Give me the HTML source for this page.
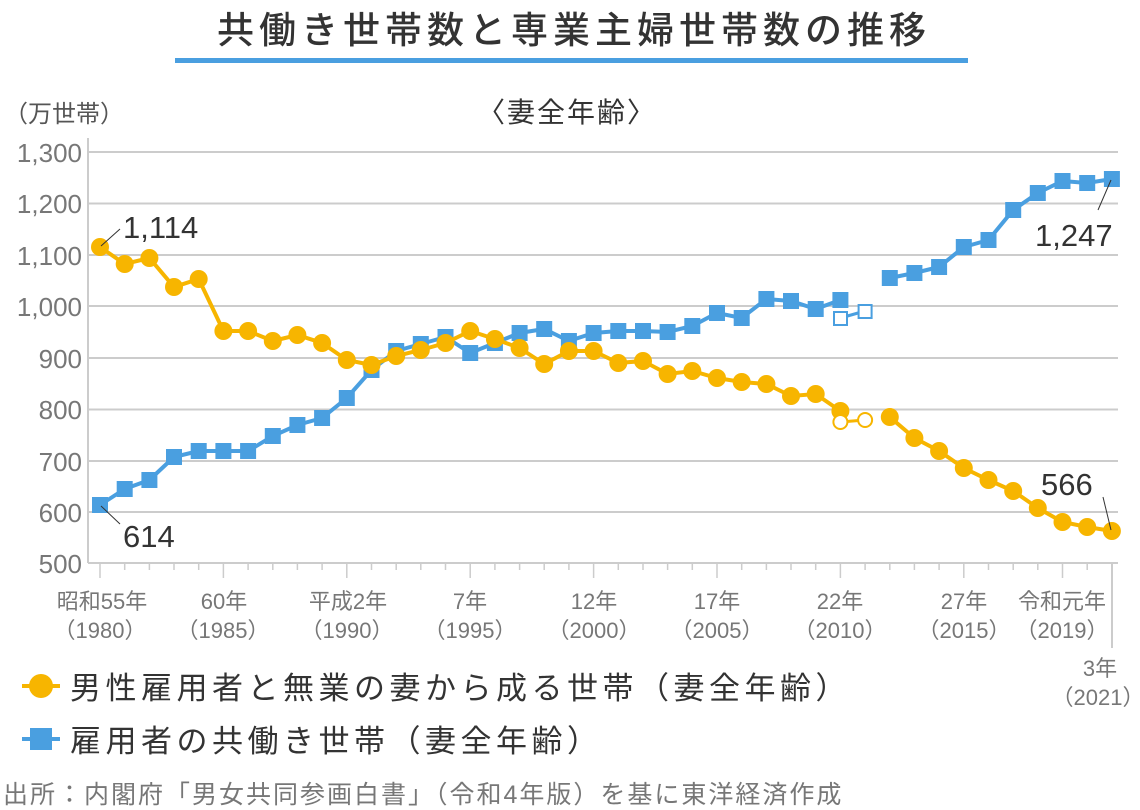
<!DOCTYPE html>
<html><head><meta charset="utf-8"><style>
body{margin:0;background:#fff;}
svg{display:block;font-family:"Liberation Sans","Noto Sans CJK JP",sans-serif;}
</style></head><body>
<svg width="1140" height="810" viewBox="0 0 1140 810">
<text x="574" y="43" text-anchor="middle" font-size="37" fill="#333" font-weight="500" letter-spacing="5">共働き世帯数と専業主婦世帯数の推移</text>
<rect x="175" y="58" width="793" height="5" fill="#4a9fe0"/>
<text x="4" y="122" font-size="24" fill="#555">（万世帯）</text>
<text x="567" y="122" text-anchor="middle" font-size="28" fill="#333" letter-spacing="2">〈妻全年齢〉</text>
<g stroke="#ccc" stroke-width="2">
<line x1="88" y1="152" x2="1118" y2="152"/><line x1="88" y1="203.5" x2="1118" y2="203.5"/><line x1="88" y1="255" x2="1118" y2="255"/><line x1="88" y1="306" x2="1118" y2="306"/><line x1="88" y1="358" x2="1118" y2="358"/><line x1="88" y1="409.5" x2="1118" y2="409.5"/><line x1="88" y1="461" x2="1118" y2="461"/><line x1="88" y1="512" x2="1118" y2="512"/><line x1="88" y1="563" x2="1118" y2="563"/>
<line x1="88" y1="138" x2="88" y2="563"/>
<line x1="1112" y1="563" x2="1112" y2="648"/>
</g>
<g stroke="#ccc" stroke-width="1.5">
<line x1="100" y1="563" x2="100" y2="578"/><line x1="124.7" y1="563" x2="124.7" y2="570"/><line x1="149.4" y1="563" x2="149.4" y2="570"/><line x1="174" y1="563" x2="174" y2="570"/><line x1="198.7" y1="563" x2="198.7" y2="570"/><line x1="223.4" y1="563" x2="223.4" y2="578"/><line x1="248.1" y1="563" x2="248.1" y2="570"/><line x1="272.8" y1="563" x2="272.8" y2="570"/><line x1="297.4" y1="563" x2="297.4" y2="570"/><line x1="322.1" y1="563" x2="322.1" y2="570"/><line x1="346.8" y1="563" x2="346.8" y2="578"/><line x1="371.5" y1="563" x2="371.5" y2="570"/><line x1="396.2" y1="563" x2="396.2" y2="570"/><line x1="420.8" y1="563" x2="420.8" y2="570"/><line x1="445.5" y1="563" x2="445.5" y2="570"/><line x1="470.2" y1="563" x2="470.2" y2="578"/><line x1="494.9" y1="563" x2="494.9" y2="570"/><line x1="519.6" y1="563" x2="519.6" y2="570"/><line x1="544.2" y1="563" x2="544.2" y2="570"/><line x1="568.9" y1="563" x2="568.9" y2="570"/><line x1="593.6" y1="563" x2="593.6" y2="578"/><line x1="618.3" y1="563" x2="618.3" y2="570"/><line x1="643" y1="563" x2="643" y2="570"/><line x1="667.6" y1="563" x2="667.6" y2="570"/><line x1="692.3" y1="563" x2="692.3" y2="570"/><line x1="717" y1="563" x2="717" y2="578"/><line x1="741.7" y1="563" x2="741.7" y2="570"/><line x1="766.4" y1="563" x2="766.4" y2="570"/><line x1="791" y1="563" x2="791" y2="570"/><line x1="815.7" y1="563" x2="815.7" y2="570"/><line x1="840.4" y1="563" x2="840.4" y2="578"/><line x1="865.1" y1="563" x2="865.1" y2="570"/><line x1="889.8" y1="563" x2="889.8" y2="570"/><line x1="914.4" y1="563" x2="914.4" y2="570"/><line x1="939.1" y1="563" x2="939.1" y2="570"/><line x1="963.8" y1="563" x2="963.8" y2="578"/><line x1="988.5" y1="563" x2="988.5" y2="570"/><line x1="1013.2" y1="563" x2="1013.2" y2="570"/><line x1="1037.8" y1="563" x2="1037.8" y2="570"/><line x1="1062.5" y1="563" x2="1062.5" y2="578"/><line x1="1087.2" y1="563" x2="1087.2" y2="570"/>
</g>
<g font-size="26" fill="#777" text-anchor="end">
<text x="82" y="162">1,300</text><text x="82" y="213">1,200</text><text x="82" y="265">1,100</text><text x="82" y="316">1,000</text><text x="82" y="368">900</text><text x="82" y="419">800</text><text x="82" y="471">700</text><text x="82" y="522">600</text><text x="82" y="573">500</text>
</g>
<g font-size="22" fill="#777" text-anchor="middle">
<text x="102" y="609">昭和55年</text><text x="100" y="638">（1980）</text>
<text x="224" y="609">60年</text><text x="223" y="638">（1985）</text>
<text x="348" y="609">平成2年</text><text x="347" y="638">（1990）</text>
<text x="470" y="609">7年</text><text x="470" y="638">（1995）</text>
<text x="594" y="609">12年</text><text x="594" y="638">（2000）</text>
<text x="717" y="609">17年</text><text x="717" y="638">（2005）</text>
<text x="840" y="609">22年</text><text x="840" y="638">（2010）</text>
<text x="964" y="609">27年</text><text x="964" y="638">（2015）</text>
<text x="1062" y="609">令和元年</text><text x="1062" y="638">（2019）</text>
<text x="1100" y="676">3年</text><text x="1098" y="705">（2021）</text>
</g>
<g fill="none" stroke="#4a9fe0" stroke-width="4">
<polyline points="100,505 124.7,489 149.4,480 174,457 198.7,451 223.4,451 248.1,451 272.8,436 297.4,425 322.1,418 346.8,398 371.5,370 396.2,351 420.8,344 445.5,337 470.2,353 494.9,343 519.6,333 544.2,329 568.9,341 593.6,333 618.3,331 643,331 667.6,332 692.3,326 717,313 741.7,318 766.4,299 791,301 815.7,309 840.4,300"/>
<polyline points="840.4,318 865.1,311" stroke-width="3"/>
<polyline points="889.8,278 914.4,273 939.1,267 963.8,247 988.5,240 1013.2,210 1037.8,193 1062.5,181 1087.2,183 1111.9,179"/>
</g>
<g fill="#4a9fe0">
<rect x="92" y="497" width="16" height="16"/><rect x="116.7" y="481" width="16" height="16"/><rect x="141.4" y="472" width="16" height="16"/><rect x="166" y="449" width="16" height="16"/><rect x="190.7" y="443" width="16" height="16"/><rect x="215.4" y="443" width="16" height="16"/><rect x="240.1" y="443" width="16" height="16"/><rect x="264.8" y="428" width="16" height="16"/><rect x="289.4" y="417" width="16" height="16"/><rect x="314.1" y="410" width="16" height="16"/><rect x="338.8" y="390" width="16" height="16"/><rect x="363.5" y="362" width="16" height="16"/><rect x="388.2" y="343" width="16" height="16"/><rect x="412.8" y="336" width="16" height="16"/><rect x="437.5" y="329" width="16" height="16"/><rect x="462.2" y="345" width="16" height="16"/><rect x="486.9" y="335" width="16" height="16"/><rect x="511.6" y="325" width="16" height="16"/><rect x="536.2" y="321" width="16" height="16"/><rect x="560.9" y="333" width="16" height="16"/><rect x="585.6" y="325" width="16" height="16"/><rect x="610.3" y="323" width="16" height="16"/><rect x="635" y="323" width="16" height="16"/><rect x="659.6" y="324" width="16" height="16"/><rect x="684.3" y="318" width="16" height="16"/><rect x="709" y="305" width="16" height="16"/><rect x="733.7" y="310" width="16" height="16"/><rect x="758.4" y="291" width="16" height="16"/><rect x="783" y="293" width="16" height="16"/><rect x="807.7" y="301" width="16" height="16"/><rect x="832.4" y="292" width="16" height="16"/>
<rect x="881.8" y="270" width="16" height="16"/><rect x="906.4" y="265" width="16" height="16"/><rect x="931.1" y="259" width="16" height="16"/><rect x="955.8" y="239" width="16" height="16"/><rect x="980.5" y="232" width="16" height="16"/><rect x="1005.2" y="202" width="16" height="16"/><rect x="1029.8" y="185" width="16" height="16"/><rect x="1054.5" y="173" width="16" height="16"/><rect x="1079.2" y="175" width="16" height="16"/><rect x="1103.9" y="171" width="16" height="16"/>
</g>
<g fill="#fff" stroke="#4a9fe0" stroke-width="2"><rect x="834" y="312" width="13" height="13"/><rect x="858.6" y="305" width="13" height="13"/></g>
<g fill="none" stroke="#f7b500" stroke-width="4">
<polyline points="100,247 124.7,264 149.4,258 174,287 198.7,279 223.4,331 248.1,331 272.8,341 297.4,335 322.1,343 346.8,360 371.5,365 396.2,356 420.8,350 445.5,343 470.2,331 494.9,339 519.6,348 544.2,364 568.9,351 593.6,351 618.3,363 643,361 667.6,374 692.3,371 717,378 741.7,382 766.4,384 791,396 815.7,394 840.4,411"/>
<polyline points="840.4,422 865.1,420" stroke-width="3"/>
<polyline points="889.8,417 914.4,438 939.1,451 963.8,468 988.5,480 1013.2,491 1037.8,508 1062.5,522 1087.2,527 1111.9,531"/>
</g>
<g fill="#f7b500">
<circle cx="100" cy="247" r="9"/><circle cx="124.7" cy="264" r="9"/><circle cx="149.4" cy="258" r="9"/><circle cx="174" cy="287" r="9"/><circle cx="198.7" cy="279" r="9"/><circle cx="223.4" cy="331" r="9"/><circle cx="248.1" cy="331" r="9"/><circle cx="272.8" cy="341" r="9"/><circle cx="297.4" cy="335" r="9"/><circle cx="322.1" cy="343" r="9"/><circle cx="346.8" cy="360" r="9"/><circle cx="371.5" cy="365" r="9"/><circle cx="396.2" cy="356" r="9"/><circle cx="420.8" cy="350" r="9"/><circle cx="445.5" cy="343" r="9"/><circle cx="470.2" cy="331" r="9"/><circle cx="494.9" cy="339" r="9"/><circle cx="519.6" cy="348" r="9"/><circle cx="544.2" cy="364" r="9"/><circle cx="568.9" cy="351" r="9"/><circle cx="593.6" cy="351" r="9"/><circle cx="618.3" cy="363" r="9"/><circle cx="643" cy="361" r="9"/><circle cx="667.6" cy="374" r="9"/><circle cx="692.3" cy="371" r="9"/><circle cx="717" cy="378" r="9"/><circle cx="741.7" cy="382" r="9"/><circle cx="766.4" cy="384" r="9"/><circle cx="791" cy="396" r="9"/><circle cx="815.7" cy="394" r="9"/><circle cx="840.4" cy="411" r="9"/>
<circle cx="889.8" cy="417" r="9"/><circle cx="914.4" cy="438" r="9"/><circle cx="939.1" cy="451" r="9"/><circle cx="963.8" cy="468" r="9"/><circle cx="988.5" cy="480" r="9"/><circle cx="1013.2" cy="491" r="9"/><circle cx="1037.8" cy="508" r="9"/><circle cx="1062.5" cy="522" r="9"/><circle cx="1087.2" cy="527" r="9"/><circle cx="1111.9" cy="531" r="9"/>
</g>
<g fill="#fff" stroke="#f7b500" stroke-width="2"><circle cx="840.4" cy="422" r="7"/><circle cx="865.1" cy="420" r="7"/></g>
<g stroke="#333" stroke-width="1">
<line x1="101" y1="246" x2="120" y2="229"/><line x1="101" y1="506" x2="120" y2="524"/>
<line x1="1111" y1="180" x2="1098" y2="210"/><line x1="1111" y1="530" x2="1103" y2="497"/>
</g>
<g font-size="31" fill="#333">
<text x="123" y="238">1,114</text><text x="123" y="547">614</text>
<text x="1035" y="246">1,247</text><text x="1041" y="495">566</text>
</g>
<line x1="22" y1="686" x2="60" y2="686" stroke="#f7b500" stroke-width="4"/><circle cx="41" cy="686" r="12" fill="#f7b500"/>
<text x="70" y="699" font-size="31" fill="#333" letter-spacing="4.5">男性雇用者と無業の妻から成る世帯（妻全年齢）</text>
<line x1="22" y1="739" x2="60" y2="739" stroke="#4a9fe0" stroke-width="4"/><rect x="30" y="728" width="22" height="22" fill="#4a9fe0"/>
<text x="70" y="752" font-size="31" fill="#333" letter-spacing="4.5">雇用者の共働き世帯（妻全年齢）</text>
<text x="3" y="803" font-size="25" fill="#777" letter-spacing="2">出所：内閣府「男女共同参画白書」（令和4年版）を基に東洋経済作成</text>
</svg>
</body></html>
